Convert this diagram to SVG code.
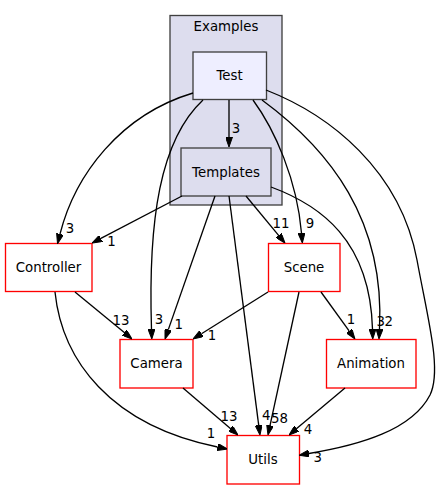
<svg xmlns="http://www.w3.org/2000/svg" width="440" height="489" viewBox="0 0 440 489">
<style>
text{font-family:"DejaVu Sans","Liberation Sans",sans-serif;font-size:13.33px;fill:#000}
.n text{text-anchor:middle}
.lbl{text-anchor:middle}
.dir{fill:#ffffff;stroke:#ff0000;stroke-width:1.33}
.in{stroke:#404040;stroke-width:1.33}
.e{fill:none;stroke:#000;stroke-width:1.33}
</style>
<defs>
<marker id="ah" viewBox="0 0 10 7" refX="0" refY="3.5" markerWidth="10" markerHeight="7" markerUnits="userSpaceOnUse" orient="auto">
<path d="M0,0 L10,3.5 L0,7 z" fill="#000" stroke="#000" stroke-width="1"/>
</marker>
</defs>
<rect width="440" height="489" fill="#ffffff"/>
<g id="cluster_Examples">
<rect x="170" y="15.5" width="112" height="189.5" fill="#ddddee" class="in"/>
<text x="226" y="31" text-anchor="middle">Examples</text>
</g>
<g id="node_Test" class="n">
<rect x="193" y="52" width="73.5" height="47.5" fill="#eeeeff" class="in"/>
<text x="229.5" y="80">Test</text>
</g>
<g id="node_Templates" class="n">
<rect x="181" y="148" width="90" height="48" fill="#ddddee" class="in"/>
<text x="226" y="176.5">Templates</text>
</g>
<g id="node_Controller" class="n">
<rect x="5.5" y="243.5" width="86.5" height="48" class="dir"/>
<text x="48.5" y="272">Controller</text>
</g>
<g id="node_Scene" class="n">
<rect x="268.5" y="243.5" width="71.5" height="48" class="dir"/>
<text x="304" y="272">Scene</text>
</g>
<g id="node_Camera" class="n">
<rect x="120" y="339.5" width="73" height="48.5" class="dir"/>
<text x="156.5" y="368">Camera</text>
</g>
<g id="node_Animation" class="n">
<rect x="326.5" y="339.5" width="89.5" height="48.5" class="dir"/>
<text x="371" y="368">Animation</text>
</g>
<g id="node_Utils" class="n">
<rect x="227" y="435.5" width="72.5" height="48.5" class="dir"/>
<text x="263" y="464">Utils</text>
</g>
<g id="edges">
<path class="e" marker-end="url(#ah)" d="M229,100 L229,137"/>
<path class="e" marker-end="url(#ah)" d="M193,93 C120,115 75,175 60,234"/>
<path class="e" marker-end="url(#ah)" d="M203,100 C160,140 148,220 151.5,329"/>
<path class="e" marker-end="url(#ah)" d="M253,100 C275,130 297,180 301.5,233"/>
<path class="e" marker-end="url(#ah)" d="M262,100 C330,150 385,220 379.5,329"/>
<path class="e" marker-end="url(#ah)" d="M266,90 C330,115 400,170 417,260 C428,320 442,370 430,395 C412,430 360,445 309,453.5"/>
<path class="e" marker-end="url(#ah)" d="M182,196 L100.9,238.4"/>
<path class="e" marker-end="url(#ah)" d="M215,196 L168.3,329.6"/>
<path class="e" marker-end="url(#ah)" d="M229,196 L258.7,425.1"/>
<path class="e" marker-end="url(#ah)" d="M246,196 L278.6,235.3"/>
<path class="e" marker-end="url(#ah)" d="M271,187 C320,205 370,240 372.5,329"/>
<path class="e" marker-end="url(#ah)" d="M75,292 L124.3,332.6"/>
<path class="e" marker-end="url(#ah)" d="M55,292 C62,360 110,425 217.5,447"/>
<path class="e" marker-end="url(#ah)" d="M268,292 L201.5,333.7"/>
<path class="e" marker-end="url(#ah)" d="M299,292 L270.1,425.2"/>
<path class="e" marker-end="url(#ah)" d="M321,292 L349.1,330.9"/>
<path class="e" marker-end="url(#ah)" d="M183,388 L230.4,428.5"/>
<path class="e" marker-end="url(#ah)" d="M345,388 L296.7,428.6"/>
<text class="lbl" x="236" y="133">3</text>
<text class="lbl" x="70" y="233">3</text>
<text class="lbl" x="111.5" y="246">1</text>
<text class="lbl" x="121" y="324.5">13</text>
<text class="lbl" x="159" y="323.5">3</text>
<text class="lbl" x="178.7" y="329">1</text>
<text class="lbl" x="212" y="340">1</text>
<text class="lbl" x="281" y="228">11</text>
<text class="lbl" x="310" y="228">9</text>
<text class="lbl" x="351" y="324">1</text>
<text class="lbl" x="380.7" y="326">3</text>
<text class="lbl" x="388.7" y="326">2</text>
<text class="lbl" x="229" y="421">13</text>
<text class="lbl" x="266.3" y="420">4</text>
<text class="lbl" x="279.5" y="422.5">58</text>
<text class="lbl" x="308" y="434">4</text>
<text class="lbl" x="211" y="438">1</text>
<text class="lbl" x="317.7" y="462">3</text>
</g>
</svg>
